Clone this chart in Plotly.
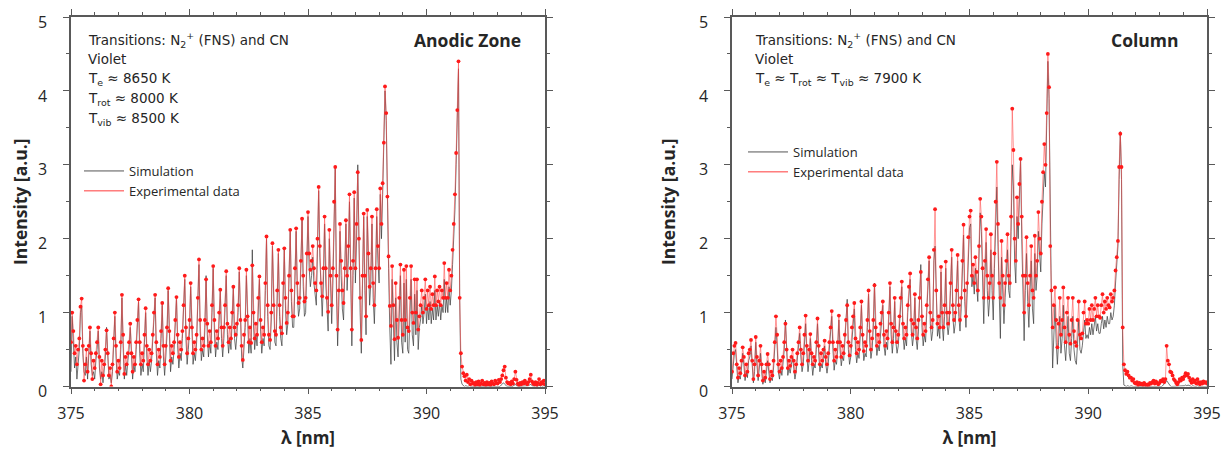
import plotly.graph_objects as go

# Wavelength grid of the sampled spectra (nm)
WL_START = 375.0
WL_STEP = 0.05

X_TICKS = [375, 380, 385, 390, 395]
Y_TICKS = [0, 1, 2, 3, 4, 5]

# ---------------- Anodic zone ----------------
ANODIC_EXP = [
    0.60, 1.00, 0.75, 0.45, 0.55, 0.30, 0.50, 0.65, 1.08, 1.19,
    0.55, 0.08, 0.30, 0.50, 0.20, 0.55, 0.80, 0.45, 0.10, 0.35,
    0.25, 0.45, 0.60, 0.80, 0.40, 0.03, 0.35, 0.15, 0.30, 0.50,
    0.76, 0.45, 0.15, 0.25, 0.00, 0.30, 0.65, 1.00, 0.55, 0.20,
    0.35, 0.25, 0.60, 1.24, 0.70, 0.17, 0.40, 0.30, 0.45, 0.60,
    0.85, 0.45, 0.20, 0.40, 0.30, 0.60, 0.90, 1.18, 0.60, 0.30,
    0.45, 0.35, 0.70, 1.06, 0.55, 0.30, 0.50, 0.35, 0.45, 0.70,
    1.00, 1.24, 0.60, 0.30, 0.50, 0.40, 0.75, 1.13, 0.55, 0.30,
    0.55, 0.80, 1.33, 0.75, 0.35, 0.55, 0.45, 0.60, 0.90, 1.21,
    0.70, 0.40, 0.60, 0.50, 0.75, 1.10, 1.50, 0.80, 0.45, 0.65,
    0.90, 1.40, 0.80, 0.45, 0.60, 0.50, 0.70, 1.20, 1.72, 0.90,
    0.50, 0.65, 0.55, 0.90, 1.45, 0.85, 0.55, 0.75, 0.60, 1.10,
    1.63, 0.90, 0.55, 0.75, 0.65, 1.00, 1.31, 0.80, 0.55, 0.80,
    1.10, 1.56, 0.85, 0.60, 0.80, 0.65, 1.00, 1.35, 0.80, 0.70,
    0.85, 1.10, 1.60, 0.90, 0.55, 0.36, 0.70, 0.90, 1.58, 0.95,
    0.60, 0.80, 0.59, 1.64, 1.00, 0.65, 0.85, 0.70, 1.20, 1.49,
    0.90, 0.60, 0.80, 0.70, 1.40, 2.03, 1.10, 0.70, 0.63, 1.00,
    1.94, 1.10, 0.75, 0.70, 1.30, 1.85, 1.10, 0.80, 0.72, 1.40,
    1.87, 1.20, 0.86, 1.00, 1.50, 2.12, 1.30, 0.95, 0.95, 1.60,
    2.14, 1.40, 1.13, 1.20, 1.70, 2.27, 1.50, 1.15, 1.20, 1.80,
    2.36, 1.80, 1.58, 1.70, 1.90, 1.60, 1.40, 1.30, 2.00, 2.70,
    1.90, 1.40, 1.22, 1.60, 2.30, 1.60, 1.20, 1.01, 2.12, 1.50,
    1.10, 1.60, 2.50, 2.97, 1.50, 0.77, 1.30, 2.20, 1.70, 1.30,
    1.13, 1.60, 2.25, 1.50, 1.90, 2.60, 1.60, 0.77, 1.70, 2.63,
    1.60, 2.20, 2.90, 2.00, 1.20, 0.63, 1.50, 2.34, 1.50, 0.95,
    2.39, 1.80, 1.35, 1.60, 2.30, 1.40, 1.10, 1.60, 2.40, 1.90,
    1.60, 2.68, 2.20, 2.75, 3.30, 4.06, 3.70, 2.57, 1.76, 1.09,
    0.82, 1.63, 1.10, 0.64, 1.40, 0.90, 0.66, 1.20, 1.65, 0.90,
    0.70, 1.58, 0.90, 1.63, 0.80, 0.75, 1.20, 1.63, 1.00, 0.86,
    1.45, 1.00, 1.45, 0.77, 0.95, 1.10, 1.30, 1.00, 1.20, 1.45,
    1.05, 1.30, 1.10, 1.35, 1.05, 1.25, 1.10, 1.49, 1.10, 1.30,
    1.15, 1.35, 1.10, 1.30, 1.20, 1.67, 1.20, 1.40, 1.20, 1.58,
    1.30, 1.50, 1.85, 2.20, 2.60, 3.16, 3.74, 4.40, 1.20, 0.45,
    0.27, 0.18, 0.14, 0.08, 0.16, 0.06, 0.10, 0.03, 0.08, 0.04,
    0.05, 0.02, 0.06, 0.03, 0.07, 0.02, 0.04, 0.08, 0.03, 0.05,
    0.02, 0.06, 0.03, 0.05, 0.02, 0.07, 0.04, 0.03, 0.08, 0.05,
    0.04, 0.09, 0.06, 0.10, 0.15, 0.22, 0.27, 0.12, 0.06, 0.04,
    0.05, 0.03, 0.07, 0.04, 0.10, 0.20, 0.09, 0.04, 0.02, 0.05,
    0.03, 0.06, 0.04, 0.08, 0.05, 0.03, 0.06, 0.10, 0.16, 0.07,
    0.04, 0.03, 0.06, 0.02, 0.05, 0.10, 0.03, 0.06, 0.04, 0.08,
    0.03,
]

ANODIC_SIM = [
    0.20, 0.95, 0.60, 0.25, 0.40, 0.10, 0.30, 0.50, 1.00, 1.10,
    0.45, 0.20, 0.15, 0.40, 0.10, 0.45, 0.75, 0.30, 0.15, 0.20,
    0.10, 0.35, 0.50, 0.75, 0.25, 0.10, 0.20, 0.05, 0.20, 0.40,
    0.80, 0.30, 0.10, 0.15, 0.05, 0.20, 0.55, 0.95, 0.40, 0.10,
    0.20, 0.15, 0.50, 1.20, 0.55, 0.10, 0.30, 0.15, 0.35, 0.50,
    0.80, 0.30, 0.10, 0.30, 0.20, 0.50, 0.80, 1.15, 0.45, 0.15,
    0.30, 0.20, 0.60, 1.00, 0.40, 0.15, 0.35, 0.20, 0.35, 0.60,
    0.90, 1.20, 0.45, 0.15, 0.35, 0.25, 0.65, 1.10, 0.40, 0.15,
    0.40, 0.70, 1.30, 0.60, 0.20, 0.40, 0.30, 0.50, 0.80, 1.20,
    0.55, 0.25, 0.45, 0.35, 0.65, 1.00, 1.45, 0.65, 0.30, 0.50,
    0.75, 1.35, 0.65, 0.30, 0.45, 0.35, 0.60, 1.10, 1.65, 0.75,
    0.35, 0.50, 0.40, 0.80, 1.50, 0.70, 0.40, 0.60, 0.45, 1.00,
    1.60, 0.75, 0.40, 0.60, 0.50, 0.90, 1.30, 0.65, 0.40, 0.65,
    1.00, 1.50, 0.70, 0.45, 0.65, 0.50, 0.90, 1.35, 0.65, 0.50,
    0.70, 1.00, 1.55, 0.75, 0.40, 0.25, 0.55, 0.80, 1.50, 0.80,
    0.45, 0.65, 0.45, 1.85, 0.85, 0.50, 0.70, 0.55, 1.10, 1.45,
    0.75, 0.45, 0.65, 0.55, 1.30, 2.00, 0.95, 0.55, 0.50, 0.90,
    1.90, 0.95, 0.60, 0.55, 1.20, 1.80, 0.95, 0.65, 0.55, 1.30,
    1.85, 1.05, 0.70, 0.85, 1.40, 2.10, 1.15, 0.80, 0.80, 1.50,
    2.10, 1.25, 0.95, 1.05, 1.60, 2.25, 1.35, 0.95, 1.00, 1.70,
    2.30, 1.60, 1.35, 1.50, 1.75, 1.40, 1.20, 1.10, 1.85, 2.65,
    1.75, 1.20, 0.95, 1.40, 2.20, 1.40, 0.95, 0.75, 2.00, 1.30,
    0.85, 1.40, 2.40, 2.95, 1.30, 0.55, 1.10, 2.10, 1.50, 1.05,
    0.90, 1.40, 2.20, 1.30, 1.70, 2.50, 1.40, 0.55, 1.50, 2.55,
    1.40, 2.00, 3.00, 1.80, 1.00, 0.45, 1.30, 2.30, 1.30, 0.70,
    2.30, 1.60, 1.10, 1.40, 2.20, 1.20, 0.85, 1.40, 2.30, 1.70,
    1.40, 2.60, 2.00, 2.60, 3.20, 4.00, 3.60, 2.40, 1.60, 0.80,
    0.30, 1.45, 0.80, 0.35, 1.20, 0.60, 0.40, 1.00, 1.50, 0.60,
    0.45, 1.40, 0.60, 1.45, 0.50, 0.45, 0.95, 1.45, 0.70, 0.55,
    1.25, 0.70, 1.30, 0.50, 0.80, 0.90, 1.10, 0.85, 1.00, 1.25,
    0.85, 1.10, 0.90, 1.15, 0.85, 1.05, 0.90, 1.30, 0.90, 1.10,
    0.95, 1.15, 0.90, 1.10, 1.00, 1.45, 1.00, 1.20, 1.00, 1.35,
    1.10, 1.30, 1.65, 2.00, 2.40, 3.00, 3.60, 4.30, 1.20, 0.10,
    0.03, 0.01, 0.00, 0.01, 0.00, 0.00, 0.01, 0.00, 0.00, 0.00,
    0.00, 0.00, 0.01, 0.00, 0.00, 0.00, 0.00, 0.01, 0.00, 0.00,
    0.00, 0.01, 0.00, 0.00, 0.00, 0.01, 0.00, 0.00, 0.01, 0.00,
    0.00, 0.01, 0.00, 0.02, 0.04, 0.05, 0.03, 0.01, 0.00, 0.00,
    0.00, 0.00, 0.01, 0.00, 0.02, 0.03, 0.01, 0.00, 0.00, 0.00,
    0.00, 0.01, 0.00, 0.01, 0.00, 0.00, 0.01, 0.02, 0.03, 0.01,
    0.00, 0.00, 0.01, 0.00, 0.00, 0.02, 0.00, 0.01, 0.00, 0.01,
    0.00,
]

# ---------------- Column ----------------
COLUMN_EXP = [
    0.20, 0.45, 0.55, 0.59, 0.30, 0.12, 0.25, 0.18, 0.35, 0.53,
    0.40, 0.15, 0.30, 0.20, 0.45, 0.50, 0.63, 0.35, 0.10, 0.30,
    0.67, 0.40, 0.15, 0.35, 0.55, 0.30, 0.08, 0.20, 0.12, 0.30,
    0.44, 0.30, 0.10, 0.20, 0.15, 0.35, 0.60, 0.95, 0.70, 0.30,
    0.20, 0.35, 0.25, 0.40, 0.60, 0.85, 0.50, 0.25, 0.35, 0.28,
    0.40, 0.50, 0.35, 0.20, 0.30, 0.45, 0.60, 0.80, 0.50, 0.30,
    0.45, 0.70, 0.96, 0.55, 0.35, 0.50, 0.71, 0.45, 0.30, 0.40,
    0.35, 0.60, 0.92, 0.55, 0.30, 0.45, 0.35, 0.50, 0.62, 0.40,
    0.30, 0.45, 0.60, 0.80, 1.02, 0.60, 0.35, 0.50, 0.40, 0.60,
    0.96, 0.60, 0.40, 0.55, 0.45, 0.70, 0.90, 1.10, 0.60, 0.42,
    0.55, 0.80, 0.95, 1.13, 0.65, 0.45, 0.60, 0.50, 0.80, 1.15,
    0.70, 0.48, 0.60, 0.55, 0.90, 1.30, 0.75, 0.50, 0.65, 0.90,
    1.37, 0.80, 0.55, 0.70, 0.60, 0.85, 1.00, 1.15, 0.70, 0.55,
    0.75, 0.65, 1.00, 1.40, 0.85, 0.60, 0.80, 1.20, 0.75, 0.60,
    0.70, 0.95, 1.20, 1.42, 0.85, 0.65, 0.80, 0.70, 1.10, 1.35,
    1.53, 0.90, 0.70, 0.85, 1.25, 0.80, 0.65, 0.90, 1.20, 1.55,
    0.95, 0.70, 0.85, 0.75, 1.10, 1.45, 1.75, 1.00, 0.80, 0.90,
    1.85, 2.40, 1.30, 0.85, 0.95, 0.80, 1.62, 1.00, 0.80, 1.10,
    1.69, 1.00, 0.85, 1.00, 1.40, 1.85, 1.10, 0.90, 1.00, 1.30,
    1.78, 1.10, 0.90, 1.20, 1.70, 2.19, 1.30, 0.95, 1.40, 2.02,
    2.30, 2.38, 1.50, 1.65, 1.40, 1.75, 1.55, 1.30, 1.90, 2.54,
    2.30, 1.60, 1.20, 1.70, 2.13, 1.50, 1.20, 1.40, 2.06, 1.50,
    1.20, 1.80, 2.50, 3.04, 2.20, 1.40, 1.20, 1.97, 1.50, 1.10,
    1.40, 1.70, 2.06, 1.50, 1.40, 2.30, 3.76, 3.20, 2.00, 1.70,
    2.56, 2.20, 2.74, 3.08, 2.30, 1.50, 1.00, 1.50, 2.02, 1.40,
    1.10, 1.50, 1.90, 1.30, 1.20, 2.04, 1.50, 1.70, 2.36, 2.00,
    1.80, 2.50, 2.90, 3.28, 3.00, 3.70, 4.50, 4.05, 1.90, 1.30,
    0.80, 1.10, 1.34, 0.90, 0.53, 0.85, 1.20, 0.70, 0.90, 1.34,
    0.80, 0.60, 1.00, 1.20, 0.70, 0.58, 0.90, 1.20, 0.75, 0.60,
    0.55, 0.90, 1.15, 0.70, 0.65, 0.72, 1.00, 1.15, 0.85, 0.90,
    0.85, 1.05, 0.90, 1.10, 0.90, 1.05, 1.20, 0.95, 1.10, 0.95,
    0.93, 1.10, 1.25, 1.00, 1.15, 1.05, 1.20, 1.10, 1.07, 1.25,
    1.15, 1.20, 1.30, 1.57, 1.75, 1.97, 2.97, 3.42, 2.97, 0.80,
    0.30, 0.22, 0.17, 0.20, 0.15, 0.12, 0.12, 0.08, 0.10, 0.05,
    0.04, 0.06, 0.02, 0.05, 0.03, 0.04, 0.02, 0.05, 0.03, 0.01,
    0.03, 0.02, 0.05, 0.04, 0.06, 0.08, 0.04, 0.07, 0.05, 0.03,
    0.05, 0.08, 0.07, 0.10, 0.06, 0.10, 0.55, 0.35, 0.30, 0.20,
    0.19, 0.15, 0.10, 0.08, 0.05, 0.03, 0.06, 0.10, 0.08, 0.12,
    0.10, 0.14, 0.18, 0.15, 0.17, 0.12, 0.08, 0.05, 0.10, 0.06,
    0.08, 0.04, 0.10, 0.06, 0.03, 0.06, 0.04, 0.07, 0.05, 0.06,
    0.04,
]

COLUMN_SIM = [
    0.10, 0.35, 0.45, 0.50, 0.20, 0.05, 0.15, 0.10, 0.25, 0.45,
    0.30, 0.08, 0.20, 0.12, 0.35, 0.40, 0.55, 0.25, 0.05, 0.20,
    0.60, 0.30, 0.08, 0.25, 0.45, 0.20, 0.03, 0.12, 0.05, 0.20,
    0.35, 0.20, 0.05, 0.12, 0.08, 0.25, 0.50, 0.80, 0.55, 0.20,
    0.10, 0.25, 0.15, 0.30, 0.50, 0.90, 0.40, 0.15, 0.25, 0.18,
    0.30, 0.40, 0.25, 0.10, 0.20, 0.35, 0.50, 0.72, 0.40, 0.20,
    0.30, 0.55, 0.85, 0.45, 0.20, 0.35, 0.65, 0.35, 0.15, 0.30,
    0.25, 0.50, 0.85, 0.45, 0.20, 0.30, 0.25, 0.40, 0.55, 0.30,
    0.18, 0.30, 0.50, 0.70, 0.95, 0.50, 0.22, 0.35, 0.30, 0.50,
    0.90, 0.50, 0.28, 0.40, 0.35, 0.60, 0.95, 1.18, 0.50, 0.30,
    0.40, 0.65, 0.85, 1.05, 0.50, 0.32, 0.45, 0.38, 0.70, 1.10,
    0.60, 0.35, 0.45, 0.40, 0.80, 1.25, 0.60, 0.38, 0.50, 0.80,
    1.40, 0.65, 0.42, 0.55, 0.48, 0.70, 0.90, 1.10, 0.55, 0.42,
    0.60, 0.50, 0.90, 1.35, 0.70, 0.45, 0.65, 1.15, 0.60, 0.45,
    0.55, 0.80, 1.10, 1.35, 0.70, 0.50, 0.65, 0.55, 1.00, 1.30,
    1.45, 0.75, 0.55, 0.70, 1.20, 0.65, 0.50, 0.75, 1.20, 1.65,
    0.80, 0.55, 0.70, 0.60, 1.00, 1.35, 1.70, 0.85, 0.62, 0.75,
    1.70, 1.90, 1.10, 0.68, 0.80, 0.65, 1.55, 0.85, 0.62, 0.95,
    1.60, 0.85, 0.70, 0.85, 1.30, 1.75, 0.95, 0.72, 0.85, 1.20,
    1.70, 0.95, 0.75, 1.05, 1.60, 2.05, 1.15, 0.80, 1.25, 1.90,
    2.15, 2.20, 1.35, 1.50, 1.25, 1.60, 1.40, 1.15, 1.75, 2.35,
    2.10, 1.40, 0.85, 1.50, 1.95, 1.30, 0.95, 1.20, 1.85, 1.30,
    0.90, 1.60, 2.30, 2.70, 1.90, 1.10, 0.65, 1.75, 1.30, 0.85,
    1.20, 1.50, 1.85, 1.30, 1.20, 2.10, 3.00, 2.70, 1.70, 1.40,
    2.30, 2.00, 2.60, 3.08, 2.00, 1.20, 0.62, 1.30, 1.80, 1.15,
    0.80, 1.30, 1.70, 1.05, 0.85, 1.80, 1.30, 1.50, 2.10, 1.80,
    1.55, 2.20, 2.60, 2.90, 2.70, 3.40, 4.40, 3.90, 2.10, 1.10,
    0.25, 0.80, 1.10, 0.60, 0.30, 0.60, 0.95, 0.45, 0.65, 1.10,
    0.55, 0.35, 0.75, 0.95, 0.45, 0.35, 0.65, 0.95, 0.50, 0.35,
    0.30, 0.65, 0.90, 0.50, 0.45, 0.55, 0.80, 0.90, 0.65, 0.70,
    0.65, 0.80, 0.70, 0.85, 0.70, 0.80, 0.95, 0.75, 0.85, 0.72,
    0.72, 0.85, 0.95, 0.78, 0.90, 0.80, 0.95, 0.85, 0.85, 1.00,
    0.90, 0.95, 1.10, 1.40, 1.65, 1.90, 2.80, 3.45, 2.80, 0.30,
    0.02, 0.01, 0.00, 0.01, 0.00, 0.00, 0.01, 0.00, 0.00, 0.00,
    0.00, 0.01, 0.00, 0.00, 0.00, 0.01, 0.00, 0.00, 0.00, 0.00,
    0.00, 0.00, 0.01, 0.00, 0.00, 0.01, 0.00, 0.00, 0.01, 0.00,
    0.00, 0.01, 0.00, 0.02, 0.03, 0.05, 0.08, 0.05, 0.03, 0.01,
    0.00, 0.00, 0.01, 0.00, 0.00, 0.01, 0.00, 0.01, 0.00, 0.01,
    0.00, 0.01, 0.02, 0.01, 0.02, 0.01, 0.00, 0.00, 0.01, 0.00,
    0.00, 0.00, 0.01, 0.00, 0.00, 0.01, 0.00, 0.01, 0.00, 0.00,
    0.00,
]

# Page has an 8 px body margin; the figure is sized to fit the window.
PAGE_W, PAGE_H, OFF = 1230, 457, 8
W, H = PAGE_W - 2 * OFF, PAGE_H - 2 * OFF


def wavelengths(values):
    return [round(WL_START + WL_STEP * i, 2) for i in range(len(values))]


def px(x):
    return (x - OFF) / W


def py(y):
    return 1 - (y - OFF) / H


SIM_COLOR = "rgba(60,60,60,0.8)"
EXP_LINE = "rgba(255,70,70,0.55)"
EXP_MARK = "#ff1a1a"
FONT = "Open Sans"
TXT = "#262626"

fig = go.Figure()

panels = [
    ("x", "y", ANODIC_SIM, ANODIC_EXP, "legend"),
    ("x2", "y2", COLUMN_SIM, COLUMN_EXP, "legend2"),
]
for xa, ya, sim, exp, lg in panels:
    fig.add_trace(go.Scatter(
        x=wavelengths(sim), y=sim, xaxis=xa, yaxis=ya, mode="lines",
        line=dict(color=SIM_COLOR, width=0.9), showlegend=False,
        hoverinfo="skip"))
    fig.add_trace(go.Scatter(
        x=wavelengths(exp), y=exp, xaxis=xa, yaxis=ya, mode="lines+markers",
        line=dict(color=EXP_LINE, width=1),
        marker=dict(color=EXP_MARK, size=3.8), showlegend=False))
    # legend entries (line samples only)
    fig.add_trace(go.Scatter(
        x=[None], y=[None], xaxis=xa, yaxis=ya, mode="lines", name="Simulation",
        line=dict(color="#555555", width=1), legend=lg))
    fig.add_trace(go.Scatter(
        x=[None], y=[None], xaxis=xa, yaxis=ya, mode="lines",
        name="Experimental data", line=dict(color="#ff3b3b", width=1),
        legend=lg))

axis_common = dict(
    showgrid=False, zeroline=False, showline=True, linecolor="#595959",
    linewidth=1.5, mirror="allticks", ticks="outside", ticklen=6,
    tickwidth=1.2, tickcolor="#595959",
    tickfont=dict(family=FONT, size=16, color=TXT),
    ticklabeloverflow="allow", automargin=False,
)

xdomains = [[px(71), px(545)], [px(732), px(1207)]]
ydomain = [py(386.5), py(17)]

for i, (xn, yn) in enumerate([("xaxis", "yaxis"), ("xaxis2", "yaxis2")]):
    xd = dict(axis_common)
    xd.update(
        domain=xdomains[i], range=[375, 395], tickvals=X_TICKS,
        anchor="y" if i == 0 else "y2", ticklabelstandoff=6,
        minor=dict(dtick=1, ticks="outside", ticklen=3, tickcolor="#595959",
                   showgrid=False),
        title=dict(text="<b>λ [nm]</b>", font=dict(family=FONT, size=17,
                                                    color=TXT), standoff=26),
    )
    yd = dict(axis_common)
    yd.update(
        domain=ydomain, range=[0, 5], tickvals=Y_TICKS,
        anchor="x" if i == 0 else "x2", ticklabelstandoff=13,
        ticklabelshift=5,
        minor=dict(dtick=0.5, ticks="outside", ticklen=3, tickcolor="#595959",
                   showgrid=False),
        title=dict(text="<b>Intensity [a.u.]</b>",
                   font=dict(family=FONT, size=17.5, color=TXT), standoff=19),
    )
    fig.layout[xn] = xd
    fig.layout[yn] = yd

ann = []
NOTE_FONT = "DejaVu Sans"


def note(x, y, text, size=13.5, bold=False, anchor="left", family=NOTE_FONT):
    ann.append(dict(
        x=px(x), y=py(y), xref="paper", yref="paper", xanchor=anchor,
        yanchor="middle", showarrow=False,
        text=f"<b>{text}</b>" if bold else text,
        font=dict(family=family, size=size, color=TXT)))


note(86, 40, "Transitions: N<sub>2</sub><sup>+</sup> (FNS) and CN")
note(86, 59, "Violet")
note(86, 79, "T<sub>e</sub> ≈ 8650 K")
note(86, 99, "T<sub>rot</sub> ≈ 8000 K")
note(86, 119, "T<sub>vib</sub> ≈ 8500 K")
note(523, 40, "Anodic Zone", size=17.5, bold=True, anchor="right",
     family=FONT)

note(753, 40, "Transitions: N<sub>2</sub><sup>+</sup> (FNS) and CN")
note(753, 59, "Violet")
note(753, 79, "T<sub>e</sub> ≈ T<sub>rot</sub> ≈ T<sub>vib</sub> ≈ 7900 K")
note(1181, 40, "Column", size=17.5, bold=True, anchor="right", family=FONT)

legend_style = dict(
    xanchor="left", yanchor="top", bgcolor="rgba(0,0,0,0)",
    font=dict(family=FONT, size=13, color=TXT), tracegroupgap=0,
    itemwidth=40, borderwidth=0,
)

fig.update_layout(
    width=W, height=H, margin=dict(l=0, r=0, t=0, b=0),
    paper_bgcolor="white", plot_bgcolor="white",
    annotations=ann,
    legend=dict(legend_style, x=px(79), y=py(156)),
    legend2=dict(legend_style, x=px(743), y=py(137)),
)

fig.write_html("out.html")
